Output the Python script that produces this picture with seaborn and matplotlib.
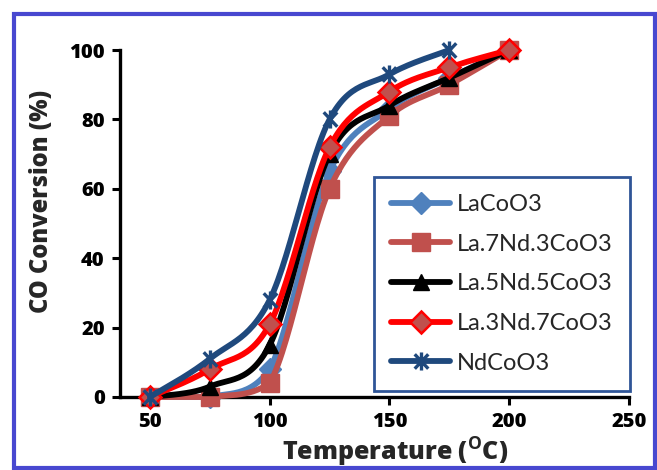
import numpy as np
import pandas as pd
import matplotlib
matplotlib.use("Agg")
import matplotlib.pyplot as plt
import seaborn as sns
from matplotlib.lines import Line2D
from matplotlib.path import Path
from matplotlib.patches import Rectangle

sns.set_theme(style="white")
plt.rcParams['font.family'] = ['Lato', 'DejaVu Sans']
plt.rcParams['mathtext.fontset'] = 'custom'
plt.rcParams['mathtext.bf'] = 'Open Sans:bold'
plt.rcParams['mathtext.rm'] = 'Open Sans:bold'

LABEL_FONT = ['Open Sans', 'DejaVu Sans']

# ---- data ----
temps = [50, 75, 100, 125, 150, 175, 200]
temps_nd = [50, 75, 100, 125, 150, 175]
la_coo3 = [0, 0, 8, 65, 83, 92, 100]
la7nd3 = [0, 0, 4, 60, 81, 90, 100]
la5nd5 = [0, 3, 15, 70, 84, 92, 100]
la3nd7 = [0, 8, 21, 72, 88, 95, 100]
nd_coo3 = [0, 11, 28, 80, 93, 100]
labels = ["LaCoO3", "La.7Nd.3CoO3", "La.5Nd.5CoO3", "La.3Nd.7CoO3", "NdCoO3"]

star = Path([(0, -1), (0, 1), (-0.75, -0.8), (0.75, 0.8), (-0.75, 0.8), (0.75, -0.8)],
            [Path.MOVETO, Path.LINETO, Path.MOVETO, Path.LINETO, Path.MOVETO, Path.LINETO])

LW = 4.2
series = [
    dict(x=temps, y=la_coo3, color="#4F81BD", marker="D", mfc="#4F81BD", mec="#4F81BD", ms=11, mew=1.0),
    dict(x=temps, y=la7nd3, color="#C0504D", marker="s", mfc="#C0504D", mec="#C0504D", ms=13, mew=1.0),
    dict(x=temps, y=la5nd5, color="#000000", marker="^", mfc="#000000", mec="#000000", ms=12, mew=1.0),
    dict(x=temps, y=la3nd7, color="#FF0000", marker="D", mfc="#C0504D", mec="#FF0000", ms=11, mew=1.8),
    dict(x=temps_nd, y=nd_coo3, color="#1F497D", marker=star, mfc="#1F497D", mec="#1F497D", ms=13, mew=2.4),
]


def smooth(x, y, n=30):
    x = np.asarray(x, float); y = np.asarray(y, float)
    P = np.column_stack([x, y])
    out = []
    for i in range(len(P) - 1):
        p0 = P[i - 1] if i > 0 else P[i]
        p1 = P[i]; p2 = P[i + 1]
        p3 = P[i + 2] if i + 2 < len(P) else P[i + 1]
        c1 = p1 + (p2 - p0) / 6.0
        c2 = p2 - (p3 - p1) / 6.0
        lo, hi = min(p1[1], p2[1]), max(p1[1], p2[1])
        c1[1] = np.clip(c1[1], lo, hi)
        c2[1] = np.clip(c2[1], lo, hi)
        t = np.linspace(0, 1, n)[:, None]
        seg = ((1 - t) ** 3) * p1 + 3 * ((1 - t) ** 2) * t * c1 + 3 * (1 - t) * t ** 2 * c2 + t ** 3 * p2
        out.append(seg if i == 0 else seg[1:])
    s = np.vstack(out)
    return s[:, 0], s[:, 1]


fig = plt.figure(figsize=(6.57, 4.70), dpi=100)
ax = fig.add_axes([120 / 657, 1 - 397 / 470, (629 - 120) / 657, (397 - 50) / 470])

for i, s in enumerate(series):
    sx, sy = smooth(s["x"], s["y"])
    df = pd.DataFrame({"T": sx, "C": sy})
    sns.lineplot(data=df, x="T", y="C", ax=ax, color=s["color"], lw=LW, sort=False,
                 estimator=None, zorder=3 + 2 * i, clip_on=False)
    ax.plot(s["x"], s["y"], ls="none", marker=s["marker"], ms=s["ms"], mfc=s["mfc"],
            mec=s["mec"], mew=s["mew"], zorder=4 + 2 * i, clip_on=False)

ax.set_xlim(37.5, 250)
ax.set_ylim(0, 100)
ax.set_xticks([50, 100, 150, 200, 250])
ax.set_yticks([0, 20, 40, 60, 80, 100])
for sp in ["top", "right"]:
    ax.spines[sp].set_visible(False)
for sp in ["left", "bottom"]:
    ax.spines[sp].set_color("black")
    ax.spines[sp].set_linewidth(2.4)
ax.tick_params(axis="both", direction="out", length=6, width=2.2, colors="black",
               labelsize=14.5, pad=5, left=True, bottom=True)
for lab in ax.get_xticklabels() + ax.get_yticklabels():
    lab.set_fontweight("heavy")
    lab.set_family(LABEL_FONT)

ax.set_xlabel(r"Temperature ($^{\mathbf{O}}$C)", fontsize=18, fontweight="heavy", family=LABEL_FONT)
ax.set_ylabel("CO Conversion (%)", fontsize=17, fontweight="heavy", family=LABEL_FONT)
ax.xaxis.set_label_coords(0.54, -0.112)
ax.yaxis.set_label_coords(-0.13, 0.565)

handles = [Line2D([], [], color=s["color"], lw=LW, marker=s["marker"], ms=s["ms"],
                  mfc=s["mfc"], mec=s["mec"], mew=s["mew"])
           for s in series]
leg = ax.legend(handles, labels, loc="upper left", bbox_to_anchor=(0.499, 0.634),
                fontsize=17, frameon=True, fancybox=False, framealpha=1,
                handlelength=2.5, handletextpad=0.3, labelspacing=0.79,
                borderpad=0.72, borderaxespad=0)
leg.get_frame().set_edgecolor("#2F5597")
leg.get_frame().set_linewidth(2)
leg.set_zorder(20)

fig.patches.append(Rectangle((14 / 657, 1 - 468 / 470), (655 - 14) / 657, (468 - 14) / 470,
                             transform=fig.transFigure, fill=False, edgecolor="#4848D0",
                             linewidth=3, zorder=0))

fig.savefig("out.png", dpi=100)
